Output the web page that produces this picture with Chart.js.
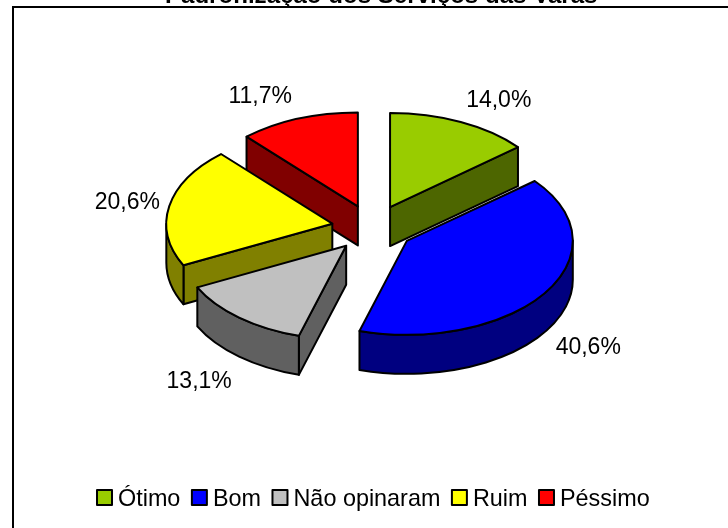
<!DOCTYPE html>
<html lang="pt">
<head>
<meta charset="utf-8">
<title>Padronização dos Serviços das Varas</title>
<style>
html,body{margin:0;padding:0;background:#fff;overflow:hidden;width:728px;height:528px}
#wrap{position:absolute;left:0;top:-40px;width:728px;height:568px}
canvas{display:block}
</style>
<script src="https://cdn.jsdelivr.net/npm/chart.js@4/dist/chart.umd.min.js"></script>
</head>
<body>
<div id="wrap"><canvas id="c" width="728" height="568"></canvas></div>
<script>
const titleText = 'Padronização dos Serviços das Varas';
const categories = ['Ótimo', 'Bom', 'Não opinaram', 'Ruim', 'Péssimo'];
const percentages = [14.0, 40.6, 13.1, 20.6, 11.7];
const topColors = ['#99CC00', '#0000FF', '#C0C0C0', '#FFFF00', '#FF0000'];
const sideColors = ['#4D6600', '#000080', '#606060', '#808000', '#800000'];

// Layout constants (page is shifted up by PAGE_SHIFT so the title clips as in the reference)
const PAGE_SHIFT = 40;
const PIE_SHIFT_X = -8.6;
const TILT = 0.566;
const DEPTH = 39;
const EXPLODE = 41;
const FONT = '"Liberation Sans", Arial, sans-serif';
const labelNudge = [[38, -21], [43, 55], [-40, 64], [-42, -3], [-38, -22]];

const pie3d = {
  id: 'pie3d',
  beforeDraw(chart) {
    const ctx = chart.ctx;
    ctx.save();
    ctx.fillStyle = '#fff';
    ctx.fillRect(0, 0, chart.width, chart.height);
    ctx.strokeStyle = '#000';
    ctx.lineWidth = 2;
    ctx.strokeRect(13, 7 + PAGE_SHIFT, chart.width + 40, chart.height);
    ctx.restore();
  },
  beforeDatasetsDraw(chart) {
    const ctx = chart.ctx;
    const meta = chart.getDatasetMeta(0);
    const slices = meta.data.map((el, i) => {
      const p = el.getProps(['x', 'y', 'startAngle', 'endAngle', 'outerRadius'], true);
      const mid = (p.startAngle + p.endAngle) / 2;
      return {
        i, a0: p.startAngle, a1: p.endAngle, r: p.outerRadius, mid,
        cx: p.x + PIE_SHIFT_X + EXPLODE * Math.cos(mid),
        cy: p.y + EXPLODE * TILT * Math.sin(mid),
        bw: el.options.borderWidth
      };
    });
    slices.sort((a, b) => a.cy - b.cy);
    const pt = (s, a, dz) => [s.cx + s.r * Math.cos(a), s.cy + s.r * TILT * Math.sin(a) + (dz || 0)];
    const ell = (s, a0, a1, dz, ccw) => {
      ctx.save();
      ctx.translate(s.cx, s.cy + dz);
      ctx.scale(1, TILT);
      ctx.arc(0, 0, s.r, a0, a1, ccw);
      ctx.restore();
    };
    const paint = (fill, bw) => {
      ctx.fillStyle = fill;
      ctx.fill();
      ctx.lineWidth = bw;
      ctx.strokeStyle = '#000';
      ctx.lineJoin = 'round';
      ctx.stroke();
    };
    const radialWall = (s, a, fill) => {
      const o = pt(s, a, 0);
      ctx.beginPath();
      ctx.moveTo(s.cx, s.cy);
      ctx.lineTo(o[0], o[1]);
      ctx.lineTo(o[0], o[1] + DEPTH);
      ctx.lineTo(s.cx, s.cy + DEPTH);
      ctx.closePath();
      paint(fill, s.bw);
    };
    for (const s of slices) {
      const side = sideColors[s.i];
      if (Math.sin(s.a0 + Math.PI / 2) < 0) radialWall(s, s.a0, side);
      if (Math.sin(s.a1 + Math.PI / 2) > 0) radialWall(s, s.a1, side);
      const from = Math.max(s.a0, 0), to = Math.min(s.a1, Math.PI);
      if (to > from) {
        ctx.beginPath();
        ell(s, from, to, 0, false);
        ell(s, to, from, DEPTH, true);
        ctx.closePath();
        paint(side, s.bw);
      }
      ctx.beginPath();
      ctx.moveTo(s.cx, s.cy);
      ell(s, s.a0, s.a1, 0, false);
      ctx.closePath();
      paint(topColors[s.i], s.bw);
    }
    return false;
  },
  afterDraw(chart) {
    const ctx = chart.ctx;
    const meta = chart.getDatasetMeta(0);
    ctx.save();
    ctx.fillStyle = '#000';
    ctx.font = '23px ' + FONT;
    ctx.textAlign = 'center';
    ctx.textBaseline = 'middle';
    meta.data.forEach((el, i) => {
      const p = el.getProps(['x', 'y', 'startAngle', 'endAngle', 'outerRadius'], true);
      const mid = (p.startAngle + p.endAngle) / 2;
      const rr = p.outerRadius + EXPLODE;
      const x = p.x + PIE_SHIFT_X + rr * Math.cos(mid) + labelNudge[i][0];
      const y = p.y + rr * TILT * Math.sin(mid) + labelNudge[i][1];
      ctx.fillText(percentages[i].toFixed(1).replace('.', ',') + '%', x, y);
    });
    // legend
    let x = 97;
    const boxTop = 490 + PAGE_SHIFT, box = 15, baseline = 506 + PAGE_SHIFT;
    ctx.font = '23.4px ' + FONT;
    ctx.textAlign = 'left';
    ctx.textBaseline = 'alphabetic';
    categories.forEach((name, i) => {
      ctx.fillStyle = topColors[i];
      ctx.fillRect(x, boxTop, box, box);
      ctx.strokeStyle = '#000';
      ctx.lineWidth = 2;
      ctx.strokeRect(x, boxTop, box, box);
      ctx.fillStyle = '#000';
      ctx.fillText(name, x + box + 6, baseline);
      x += box + 6 + ctx.measureText(name).width + 11.5;
    });
    ctx.restore();
  }
};

new Chart(document.getElementById('c'), {
  type: 'pie',
  data: {
    labels: categories,
    datasets: [{
      data: percentages,
      backgroundColor: topColors,
      borderColor: '#000',
      borderWidth: 2
    }]
  },
  options: {
    responsive: false,
    animation: false,
    radius: 166,
    layout: { padding: { left: 34.4, right: 0, top: 0, bottom: 82.4 } },
    plugins: {
      legend: { display: false },
      tooltip: { enabled: false },
      title: {
        display: true,
        text: titleText,
        color: '#000',
        font: { family: FONT, size: 24.1, weight: 'bold', lineHeight: 1.2 },
        padding: { top: 21.6, bottom: 0 }
      }
    }
  },
  plugins: [pie3d]
});
</script>
</body>
</html>
